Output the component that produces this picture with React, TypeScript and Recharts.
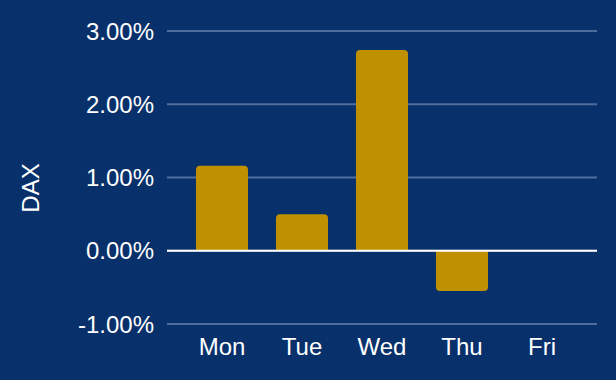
import { BarChart, Bar, XAxis, YAxis, CartesianGrid, ReferenceLine, Label } from 'recharts'

const days = ['Mon', 'Tue', 'Wed', 'Thu', 'Fri']
const daxReturns = [1.16, 0.5, 2.74, -0.55, 0]
const yTicks = [-1, 0, 1, 2, 3]

const data = days.map((day, i) => ({ day, dax: daxReturns[i] }))

const BG = '#08306b'
const FONT = '"Liberation Sans", Arial, sans-serif'

export default function App() {
  return (
    <div style={{ position: 'absolute', left: 0, top: 0, width: 616, height: 380, background: BG, fontFamily: FONT }}>
      <BarChart width={616} height={380} data={data} margin={{ top: 31, right: 19, bottom: 26, left: 0 }}>
        <CartesianGrid stroke="#4f6d9c" strokeWidth={2} vertical={false} />
        <XAxis
          dataKey="day"
          height={30}
          padding={{ left: 15, right: 15 }}
          axisLine={false}
          tickLine={false}
          tickSize={0}
          tickMargin={14}
          tick={{ fontSize: 24, fill: '#ffffff', fontFamily: FONT }}
        />
        <YAxis
          width={167}
          domain={[-1, 3]}
          ticks={yTicks}
          tickFormatter={(v: number) => `${v.toFixed(2)}%`}
          axisLine={false}
          tickLine={false}
          tickSize={0}
          tickMargin={13}
          tick={{ fontSize: 24, fill: '#ffffff', fontFamily: FONT }}
        >
          <Label
            content={() => (
              <text
                x={30}
                y={188}
                transform="rotate(-90 30 188)"
                textAnchor="middle"
                dominantBaseline="central"
                fill="#ffffff"
                fontSize={24}
                fontFamily={FONT}
              >
                DAX
              </text>
            )}
          />
        </YAxis>
        <ReferenceLine y={0} stroke="#ffffff" strokeWidth={2} />
        <Bar dataKey="dax" fill="#bf9000" barSize={52} radius={[4, 4, 0, 0]} isAnimationActive={false} />
      </BarChart>
    </div>
  )
}
